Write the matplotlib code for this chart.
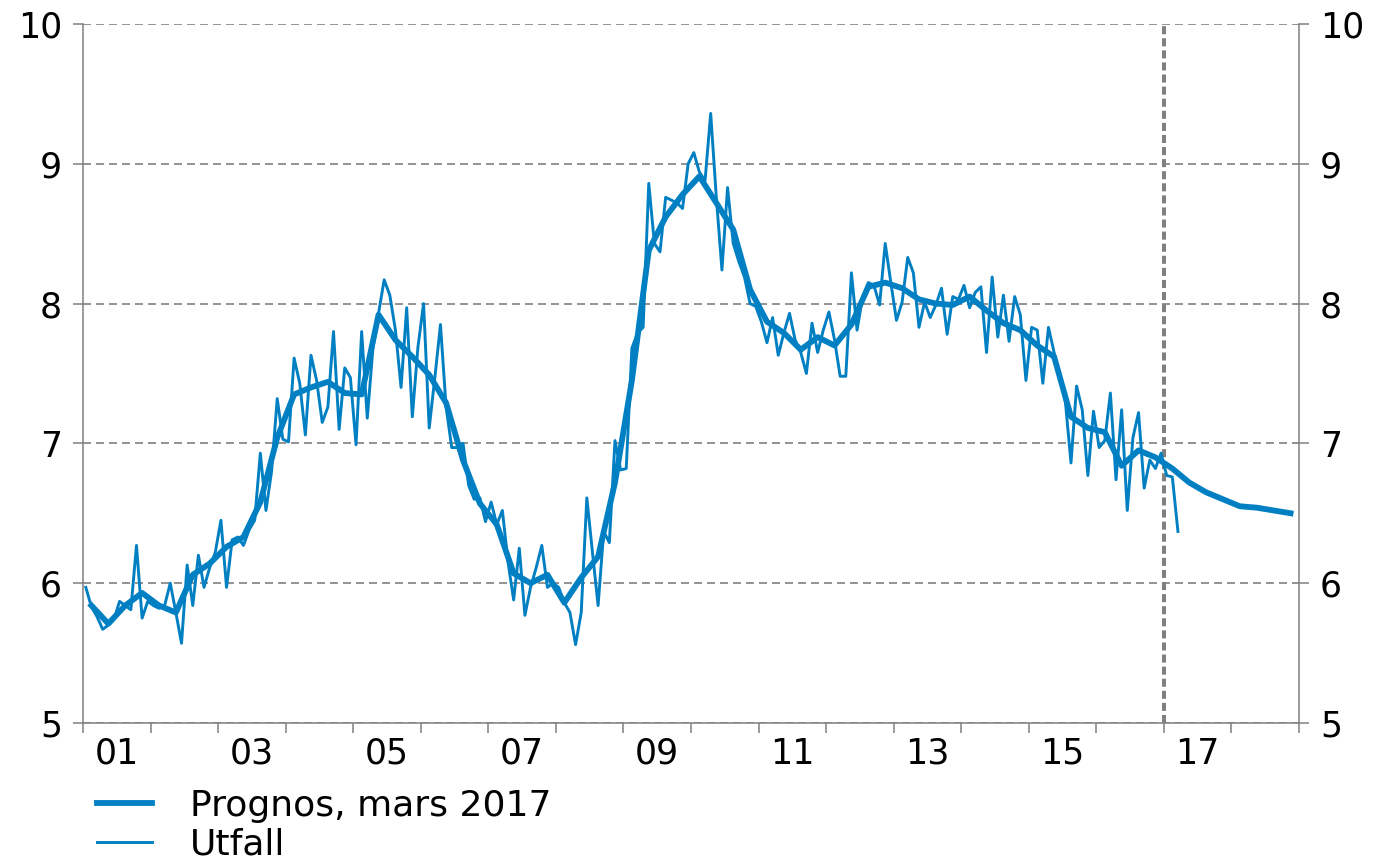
import matplotlib
matplotlib.use('Agg')
import matplotlib.pyplot as plt
import numpy as np

# Utfall, månadsdata jan 2001 - mar 2017
utfall = [
    5.97, 5.83, 5.76, 5.67, 5.70, 5.74, 5.87, 5.84, 5.81, 6.27, 5.75, 5.87,
    5.84, 5.82, 5.84, 6.00, 5.79, 5.57, 6.13, 5.84, 6.20, 5.97, 6.11, 6.22,
    6.45, 5.97, 6.31, 6.33, 6.27, 6.38, 6.45, 6.93, 6.52, 6.80, 7.32, 7.03,
    7.01, 7.61, 7.43, 7.06, 7.63, 7.45, 7.15, 7.26, 7.80, 7.10, 7.54, 7.47,
    6.99, 7.80, 7.18, 7.68, 7.93, 8.17, 8.06, 7.81, 7.40, 7.97, 7.19, 7.69,
    8.00, 7.11, 7.47, 7.85, 7.26, 6.97, 6.97, 7.00, 6.70, 6.60, 6.61, 6.44,
    6.58, 6.42, 6.52, 6.15, 5.88, 6.25, 5.77, 5.97, 6.11, 6.27, 5.97, 6.00,
    5.97, 5.86, 5.79, 5.56, 5.79, 6.61, 6.22, 5.84, 6.37, 6.29, 7.02, 6.81,
    6.82, 7.68, 7.79, 7.83, 8.86, 8.43, 8.37, 8.76, 8.74, 8.72, 8.68, 9.00,
    9.08, 8.94, 8.88, 9.36, 8.76, 8.24, 8.83, 8.43, 8.30, 8.19, 8.00, 7.98,
    7.87, 7.72, 7.90, 7.63, 7.79, 7.93, 7.74, 7.65, 7.50, 7.86, 7.65, 7.81,
    7.94, 7.74, 7.48, 7.48, 8.22, 7.81, 8.05, 8.15, 8.13, 7.99, 8.43, 8.15,
    7.88, 8.01, 8.33, 8.22, 7.83, 8.01, 7.90, 7.99, 8.11, 7.78, 8.05, 8.03,
    8.13, 7.97, 8.08, 8.12, 7.65, 8.19, 7.76, 8.06, 7.73, 8.05, 7.92, 7.45,
    7.83, 7.81, 7.43, 7.83, 7.65, 7.48, 7.30, 6.86, 7.41, 7.24, 6.77, 7.23,
    6.97, 7.02, 7.36, 6.74, 7.24, 6.52, 7.04, 7.22, 6.68, 6.88, 6.82, 6.93,
    6.77, 6.76, 6.37,
]

# Prognos, kvartalsdata 2001 kv1 - 2018 kv4
prognos = [
    5.84, 5.71, 5.84, 5.93,
    5.84, 5.79, 6.06, 6.14,
    6.26, 6.33, 6.58, 7.04,
    7.35, 7.40, 7.44, 7.36,
    7.35, 7.92, 7.74, 7.62,
    7.49, 7.29, 6.88, 6.57,
    6.42, 6.07, 6.00, 6.06,
    5.86, 6.04, 6.19, 6.72,
    7.45, 8.38, 8.62, 8.78,
    8.91, 8.72, 8.53, 8.10,
    7.87, 7.79, 7.67, 7.76,
    7.70, 7.85, 8.12, 8.15,
    8.11, 8.03, 8.00, 7.99,
    8.05, 7.95, 7.86, 7.81,
    7.70, 7.62, 7.19, 7.11,
    7.08, 6.84, 6.95, 6.90,
    6.82, 6.72, 6.65, 6.60,
    6.55, 6.54, 6.52, 6.50,
]

start_year = 2001
end_year = 2019
prognos_start = 2017
year_labels = ['01', '03', '05', '07', '09', '11', '13', '15', '17']

blue = '#0080C3'
grey = '#808080'

# tidsaxlar i decimalår, mitt i varje månad / kvartal
t_m = start_year + (np.arange(len(utfall)) + 0.5) / 12
t_q = start_year + (np.arange(len(prognos)) + 0.5) / 4

plt.rcParams['font.family'] = 'DejaVu Sans'
plt.rcParams['font.size'] = 25

fig = plt.figure(figsize=(13.74, 8.65), dpi=100)
ax = fig.add_axes([0.0604, 0.1642, 0.885, 0.8081])

ax.plot(t_q, prognos, color=blue, lw=4.2, label='Prognos, mars 2017', zorder=3)
ax.plot(t_m, utfall, color=blue, lw=2.1, label='Utfall', zorder=4)

ax.axvline(prognos_start, color=grey, lw=2.9, ls=(0, (2, 1)), zorder=2)

ax.set_xlim(start_year, end_year)
ax.set_ylim(5, 10)
ax.set_yticks([5, 6, 7, 8, 9, 10])

# årsstreck som major, etiketter mitt i åren som minor
ax.set_xticks(np.arange(start_year, end_year + 1))
ax.set_xticklabels([])
ax.set_xticks(np.arange(start_year, end_year - 1, 2) + 0.5, minor=True)
ax.set_xticklabels(year_labels, minor=True)

ax.yaxis.grid(True, color=grey, lw=1.2, ls=(0, (4.8, 3)))
ax.set_axisbelow(True)

for side in ['left', 'right', 'bottom']:
    ax.spines[side].set_color(grey)
    ax.spines[side].set_linewidth(1.1)
ax.spines['top'].set_visible(False)

ax.tick_params(axis='y', which='both', direction='out', length=7, width=1.1,
               color=grey, right=True, labelright=True, pad=8)
ax.tick_params(axis='x', which='major', direction='out', length=7, width=1.1, color=grey)
ax.tick_params(axis='x', which='minor', length=0, pad=10)

fig.legend(loc='upper left', bbox_to_anchor=(0.0706, 0.088), frameon=False,
           fontsize=26, handlelength=1.52, handletextpad=1.05, labelspacing=0.12,
           borderaxespad=0, borderpad=0)

fig.savefig('out.png', dpi=100)
